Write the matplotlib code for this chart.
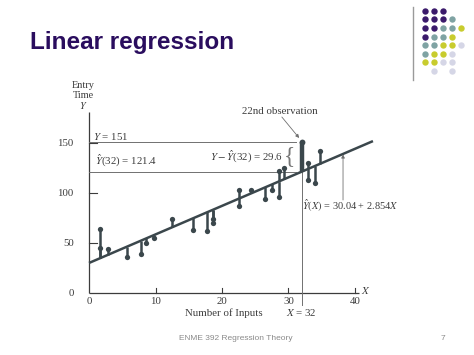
import matplotlib
matplotlib.use('Agg')
import matplotlib.pyplot as plt

plt.rcParams['mathtext.fontset'] = 'stix'

# ---------------- data ----------------
obs_x = [1.7, 1.7, 2.9, 5.7, 7.8, 8.6, 9.7, 12.5, 15.6, 17.7, 18.6, 18.6,
         22.6, 22.6, 24.4, 26.5, 27.5, 28.5, 28.5, 29.3, 33.0, 33.0, 34.0, 34.8]
obs_y = [64.4, 45.4, 44.2, 35.8, 38.6, 49.9, 55.3, 74.4, 62.9, 62.5, 73.7, 70.4,
         103.2, 86.6, 102.9, 93.6, 103.1, 121.7, 95.7, 125.1, 130.3, 113.0, 109.8, 141.7]
obs22_x = 32
obs22_y = 151
fit_at_32 = 121.4
residual_22 = 29.6
intercept = 30.04
slope = 2.854
line_x_range = [0, 42.7]
x_ticks = [0, 10, 20, 30, 40]
y_ticks = [0, 50, 100, 150]

dot_colors = {'P': '#3b1a6b', 'T': '#7fa3a3', 'Y': '#c8cc2e', 'L': '#d5d6e6'}
dot_rows = ['PPP  ', 'PPPT ', 'PPTTY', 'PTTY ', 'TTYYL', 'TYYL ', 'YYLL ', ' L L ']

W, H = 474, 355
fig = plt.figure(figsize=(W / 100, H / 100), dpi=100)
fig.patch.set_facecolor('white')

# slide decoration axes (pixel coords)
deco = fig.add_axes([0, 0, 1, 1])
deco.set_xlim(0, W)
deco.set_ylim(H, 0)
deco.axis('off')

deco.text(30, 49.3, 'Linear regression', fontsize=17.5, fontweight='bold',
          color='#2a0d5e', family='Liberation Sans', va='baseline', ha='left')
deco.plot([413, 413], [7, 80], color='#9a9a9a', lw=1.0)
for j, row in enumerate(dot_rows):
    for i, c in enumerate(row):
        if c != ' ':
            deco.plot(424.7 + 9.0 * i, 10.7 + 8.6 * j, 'o', ms=4.6,
                      color=dot_colors[c], mec='none')
deco.text(236, 339, 'ENME 392 Regression Theory', fontsize=6.0,
          family='Liberation Sans', color='#8a8a8a', ha='center', va='center')
deco.text(443, 339, '7', fontsize=6.0, family='Liberation Sans',
          color='#8a8a8a', ha='center', va='center')

# chart axes (data coords)
px0, sx = 89, 6.65
py0 = 293
ax = fig.add_axes([0, 0, 1, 1])
ax.set_xlim(-px0 / sx, (W - px0) / sx)
ax.set_ylim(py0 - H, py0)
ax.axis('off')
ax.patch.set_alpha(0)

ink = '#3c3c3c'
mark = '#3b474c'
ref = '#707070'
fs = 7.8
ff = 'Liberation Serif'

# axes
ax.plot([0, 0], [0, 181], color=ink, lw=0.9, solid_capstyle='butt')
ax.plot([0, 40.6], [0, 0], color=ink, lw=0.9, solid_capstyle='butt')
for t in y_ticks[1:]:
    ax.plot([0, 1.2], [t, t], color=ink, lw=0.8)
for t in x_ticks[1:]:
    ax.plot([t, t], [0, 5], color=ink, lw=0.8)
for t in y_ticks:
    ax.text(-2.3, t, str(t), ha='right', va='center', fontsize=fs, family=ff, color=ink)
for t in x_ticks:
    ax.text(t, -9, str(t), ha='center', va='center', fontsize=fs, family=ff, color=ink)

ax.text(-0.9, 207.5, 'Entry', ha='center', va='center', fontsize=7.4, family=ff, color=ink)
ax.text(-0.9, 197.5, 'Time', ha='center', va='center', fontsize=7.4, family=ff, color=ink)
ax.text(-0.9, 187.5, r'$Y$', ha='center', va='center', fontsize=7.4, color=ink)
ax.text(20.3, -20, 'Number of Inputs', ha='center', va='center', fontsize=fs, family=ff, color=ink)
ax.text(32, -20, r'$X$ = 32', ha='center', va='center', fontsize=fs, family=ff, color=ink)
ax.text(41.6, 3, r'$X$', ha='center', va='center', fontsize=fs, color=ink)

# reference lines
ax.plot([0, 31.2], [obs22_y, obs22_y], color=ref, lw=0.7)
ax.plot([0, 31.2], [fit_at_32, fit_at_32], color=ref, lw=0.7)
ax.plot([obs22_x, obs22_x], [obs22_y, -12], color=ref, lw=0.7, clip_on=False)

# regression line
lx = line_x_range
ly = [intercept + slope * v for v in lx]
ax.plot(lx, ly, color=mark, lw=1.8, solid_capstyle='butt')

# residual bars
for x, y in zip(obs_x, obs_y):
    f = intercept + slope * x
    ax.plot([x, x], [f, y], color=mark, lw=1.8, solid_capstyle='butt')
    ax.plot(x, y, 'o', ms=3.8, color=mark, mec='none')
ax.plot([obs22_x, obs22_x], [fit_at_32, obs22_y], color=mark, lw=3.2, solid_capstyle='butt')
ax.plot(obs22_x, obs22_y, 'o', ms=4.2, color=mark, mec='none')

# annotations
ax.text(0.6, 156, r'$Y$ = 151', ha='left', va='center', fontsize=fs, family=ff, color=ink)
ax.text(0.9, 133, r'$\hat{Y}$(32) = 121.4', ha='left', va='center', fontsize=fs, family=ff, color=ink)
ax.text(29.2, 137, r'$Y-\hat{Y}$(32) = %.1f' % residual_22, ha='right', va='center',
        fontsize=fs, family=ff, color=ink)
ax.text(30.1, 136.5, '{', ha='center', va='center', fontsize=17, family=ff,
        color='#777777', fontweight='light')
ax.text(28.7, 182, '22nd observation', ha='center', va='center', fontsize=fs, family=ff, color=ink)
ax.annotate('', xy=(31.6, 155), xytext=(29.0, 176),
            arrowprops=dict(arrowstyle='-|>', lw=0.6, color=ref, mutation_scale=5,
                            shrinkA=0, shrinkB=0))
ax.text(32.0, 87, r'$\hat{Y}(X)$ = %.2f + %.3f$X$' % (intercept, slope), ha='left', va='center',
        fontsize=7.5, family=ff, color=ink)
ax_x = 38.2
ax.annotate('', xy=(ax_x, intercept + slope * ax_x - 0.5), xytext=(ax_x, 93),
            arrowprops=dict(arrowstyle='-|>', lw=0.6, color=ref, mutation_scale=5,
                            shrinkA=0, shrinkB=0))

fig.savefig('out.png', dpi=100)
